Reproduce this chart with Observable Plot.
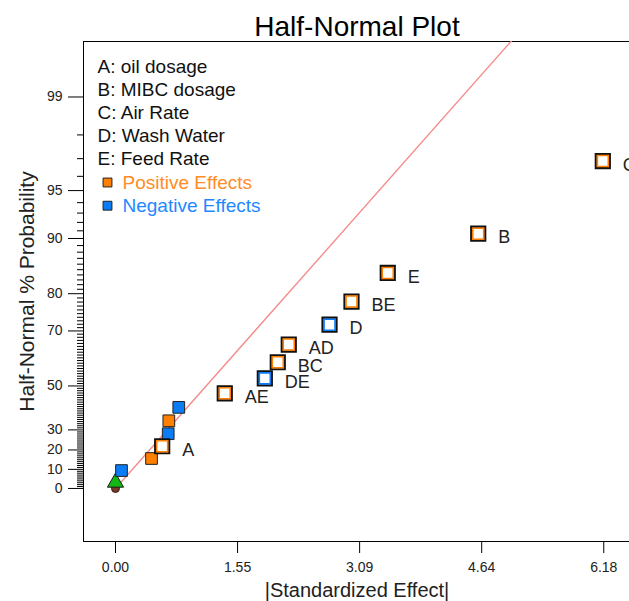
<!DOCTYPE html>
<html>
<head>
<meta charset="utf-8">
<script src="https://cdn.jsdelivr.net/npm/d3@7"></script>
<script src="https://cdn.jsdelivr.net/npm/@observablehq/plot@0.6"></script>
<style>
html, body { margin: 0; padding: 0; background: #fff; width: 629px; height: 601px; overflow: hidden; }
#chart svg { display: block; max-width: none !important; }
</style>
</head>
<body>
<div id="chart"></div>
<script>
// ---- data ----
const effectLabels = ["", "", "", "A", "", "", "", "AE", "DE", "BC", "AD", "D", "BE", "E", "B", "C"];
const effectValues = [0.00, 0.076, 0.456, 0.591, 0.667, 0.675, 0.801, 1.383, 1.890, 2.054, 2.193, 2.709, 2.987, 3.446, 4.591, 6.168];
const effectProbs  = [3.13, 9.38, 15.63, 21.88, 28.13, 34.38, 40.63, 46.88, 53.13, 59.38, 65.63, 71.88, 78.13, 84.38, 90.63, 96.88];
const effectSigns  = ["error", "neg", "pos", "pos", "neg", "pos", "neg", "pos", "neg", "pos", "pos", "neg", "pos", "pos", "pos", "pos"];

const originValue = [0.0];
const originProb = [0.0];

const refLineX = [0, 5.3];
const refLineSlope = 0.5876; // half-normal z per unit |effect|

const xTickValues = [0, 1.545, 3.09, 4.635, 6.18];
const xTickLabels = ["0.00", "1.55", "3.09", "4.64", "6.18"];
const yMajorProbs = [0, 10, 20, 30, 50, 70, 80, 90, 95, 99];
const yMajorLabels = ["0", "10", "20", "30", "50", "70", "80", "90", "95", "99"];
const yMinorProbs = d3.range(1, 99).filter(p => !yMajorProbs.includes(p));

const legendFactors = ["A: oil dosage", "B: MIBC dosage", "C: Air Rate", "D: Wash Water", "E: Feed Rate"];
const legendEffects = ["Positive Effects", "Negative Effects"];
const legendKeys = ["pos", "neg"];

const titleText = "Half-Normal Plot";
const xLabel = "|Standardized Effect|";
const yLabel = "Half-Normal % Probability";

// ---- helpers ----
function normInv(p) {
  const a = [-3.969683028665376e+01, 2.209460984245205e+02, -2.759285104469687e+02, 1.383577518672690e+02, -3.066479806614716e+01, 2.506628277459239e+00];
  const b = [-5.447609879822406e+01, 1.615858368580409e+02, -1.556989798598866e+02, 6.680131188771972e+01, -1.328068155288572e+01];
  const c = [-7.784894002430293e-03, -3.223964580411365e-01, -2.400758277161838e+00, -2.549732539343734e+00, 4.374664141464968e+00, 2.938163982698783e+00];
  const d = [7.784695709041462e-03, 3.224671290700398e-01, 2.445134137142996e+00, 3.754408661907416e+00];
  const pl = 0.02425, ph = 1 - pl;
  let q, r;
  if (p < pl) { q = Math.sqrt(-2 * Math.log(p)); return (((((c[0]*q+c[1])*q+c[2])*q+c[3])*q+c[4])*q+c[5]) / ((((d[0]*q+d[1])*q+d[2])*q+d[3])*q+1); }
  if (p <= ph) { q = p - 0.5; r = q*q; return (((((a[0]*r+a[1])*r+a[2])*r+a[3])*r+a[4])*r+a[5])*q / (((((b[0]*r+b[1])*r+b[2])*r+b[3])*r+b[4])*r+1); }
  q = Math.sqrt(-2 * Math.log(1 - p)); return -(((((c[0]*q+c[1])*q+c[2])*q+c[3])*q+c[4])*q+c[5]) / ((((d[0]*q+d[1])*q+d[2])*q+d[3])*q+1);
}
const halfZ = pct => pct <= 0 ? 0 : normInv(0.5 + pct / 200);

const colors = {pos: "#FF7F00", neg: "#0A7CF5"};
const textColors = {pos: "#FF8C26", neg: "#1E88FF"};

const effects = effectLabels.map((label, i) => ({
  label, x: effectValues[i], z: halfZ(effectProbs[i]), sign: effectSigns[i]
}));
const plain = effects.filter(d => d.label === "" && d.sign !== "error");
const labeled = effects.filter(d => d.label !== "");
const errors = effects.filter(d => d.sign === "error");
const origin = originValue.map((x, i) => ({x, z: halfZ(originProb[i])}));
const refLine = refLineX.map(x => ({x, z: refLineSlope * x}));

const yMajorZ = yMajorProbs.map(halfZ);
const yMinorZ = yMinorProbs.map(halfZ);

const font = "'Liberation Sans', Arial, Helvetica, sans-serif";

const legendMarks = [
  ...legendFactors.map((t, i) => Plot.text([t], {frameAnchor: "top-left", dx: 14, dy: 25 + i * 23.2, textAnchor: "start", lineAnchor: "middle", fontSize: 19, fill: "#111"})),
  ...legendEffects.map((t, i) => Plot.text([t], {frameAnchor: "top-left", dx: 39, dy: 25 + (i + 5) * 23.2, textAnchor: "start", lineAnchor: "middle", fontSize: 19, fill: textColors[legendKeys[i]]})),
  ...legendKeys.map((k, i) => Plot.dot([0], {frameAnchor: "top-left", dx: 24, dy: 25 + (i + 5) * 23.2, symbol: "square", r: 5, fill: colors[k], stroke: "#222", strokeWidth: 1}))
];

const chart = Plot.plot({
  width: 640,
  height: 601,
  marginLeft: 83,
  marginRight: 0,
  marginTop: 41,
  marginBottom: 60,
  style: {fontFamily: font, background: "#fff", maxWidth: "none", overflow: "visible"},
  x: {domain: [-0.405, 6.645]},
  y: {domain: [-0.349, 2.941]},
  marks: [
    Plot.frame({stroke: "#000", strokeWidth: 1}),
    Plot.line(refLine, {x: "x", y: "z", stroke: "#F58C8C", strokeWidth: 1.4, clip: true}),
    Plot.axisX(xTickValues, {tickSize: 12, tickPadding: 9, fontSize: 14, stroke: "#000", fill: "#222", label: null,
      tickFormat: d => xTickLabels[xTickValues.indexOf(d)]}),
    Plot.axisY(yMinorZ, {tickSize: 6, label: null, stroke: "#000", tickFormat: () => ""}),
    Plot.axisY(yMajorZ, {tickSize: 15, tickPadding: 6, fontSize: 14, stroke: "#000", fill: "#222", label: null,
      tickFormat: d => yMajorLabels[yMajorZ.indexOf(d)]}),
    Plot.text([titleText], {frameAnchor: "top", dx: -5, dy: -6, lineAnchor: "bottom", fontSize: 28, fill: "#000"}),
    Plot.text([xLabel], {frameAnchor: "bottom", dx: -5, dy: 49, textAnchor: "middle", lineAnchor: "middle", fontSize: 20, fill: "#222"}),
    Plot.text([yLabel], {frameAnchor: "left", dx: -56, rotate: -90, textAnchor: "middle", lineAnchor: "middle", fontSize: 21, fill: "#222"}),
    ...legendMarks,
    Plot.dot(origin, {x: "x", y: "z", r: 4, fill: "#7A3A2A", stroke: "#3A1A10", strokeWidth: 1}),
    Plot.dot(errors, {x: "x", y: "z", symbol: "triangle", r: 6, fill: "#14B814", stroke: "#1A1A1A", strokeWidth: 1}),
    Plot.dot(plain, {x: "x", y: "z", symbol: "square", r: 6.6, fill: d => colors[d.sign], stroke: "#222", strokeWidth: 1}),
    Plot.dot(labeled, {x: "x", y: "z", symbol: "square", r: 7.9, fill: "#fff", stroke: "#111", strokeWidth: 2.2}),
    Plot.dot(labeled, {x: "x", y: "z", symbol: "square", r: 6.2, fill: "none", stroke: d => colors[d.sign], strokeWidth: 1.6}),
    Plot.text(labeled, {x: "x", y: "z", text: "label", dx: 20, dy: 4, textAnchor: "start", lineAnchor: "middle", fontSize: 18, fill: "#222"})
  ]
});
document.getElementById("chart").appendChild(chart);
</script>
</body>
</html>
